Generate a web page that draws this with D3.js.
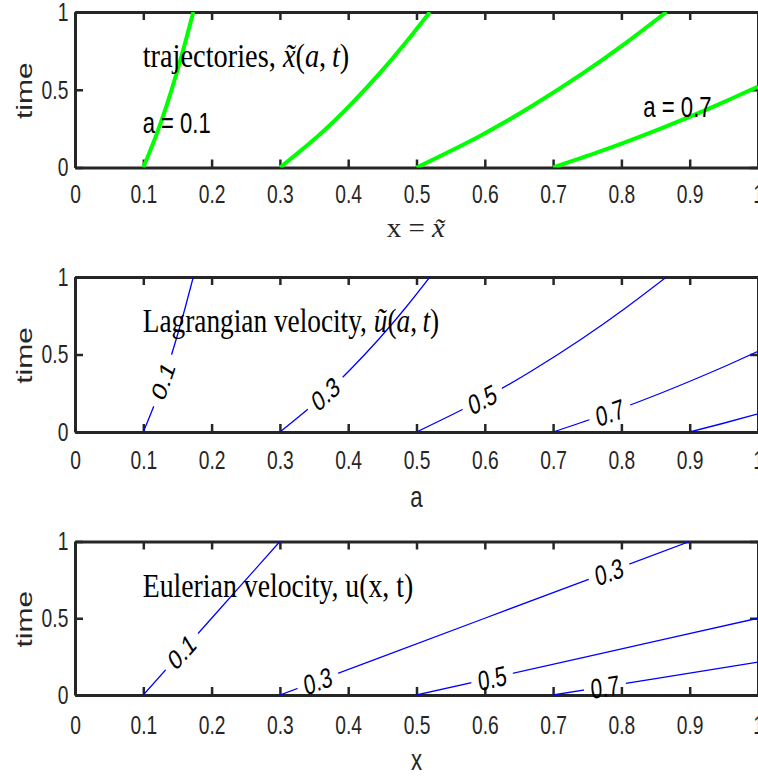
<!DOCTYPE html>
<html>
<head>
<meta charset="utf-8">
<script src="https://cdn.jsdelivr.net/npm/d3@7"></script>
<style>
  html, body { margin: 0; padding: 0; background: #fff; }
  svg { display: block; }
</style>
</head>
<body>
<svg id="fig" width="758" height="777"></svg>
<script>
// ---- axis ticks ----
const xTicks = [0, 0.1, 0.2, 0.3, 0.4, 0.5, 0.6, 0.7, 0.8, 0.9, 1];
const yTicks = [0, 0.5, 1];

// ---- trajectories x~(a,t), points as [x, t] ----
const trajA01 = [[0.1, 0], [0.1183, 0.2], [0.1342, 0.4], [0.1483, 0.6], [0.1612, 0.8], [0.1732, 1]];
const trajA03 = [[0.3, 0], [0.3550, 0.2], [0.4025, 0.4], [0.4450, 0.6], [0.4837, 0.8], [0.5196, 1]];
const trajA05 = [[0.5, 0], [0.5916, 0.2], [0.6708, 0.4], [0.7416, 0.6], [0.8062, 0.8], [0.8660, 1]];
const trajA07 = [[0.7, 0], [0.7668, 0.1], [0.8283, 0.2], [0.8854, 0.3], [0.9391, 0.4], [0.9649, 0.45], [1.0, 0.5204]];

// ---- Lagrangian velocity contours u~(a,t) = level, points as [a, t] ----
const lagLevels = ["0.1", "0.3", "0.5", "0.7", "0.9"];
const lag01 = trajA01;
const lag03 = trajA03;
const lag05 = trajA05;
const lag07 = trajA07;
const lag09 = [[0.9, 0], [0.9439, 0.05], [1.0, 0.1173]];
// inline label spots [level, a, t]
const lagLabels = [["0.1", 0.1285, 0.33], ["0.3", 0.3667, 0.247], ["0.5", 0.5965, 0.2116], ["0.7", 0.7833, 0.126]];

// ---- Eulerian velocity contours u(x,t) = level, points as [x, t] ----
const eulLevels = ["0.1", "0.3", "0.5", "0.7"];
const eul01 = [[0.1, 0], [0.2, 0.5], [0.3, 1]];
const eul03 = [[0.3, 0], [0.6, 0.5], [0.9, 1]];
const eul05 = [[0.5, 0], [0.75, 0.25], [1.0, 0.5]];
const eul07 = [[0.7, 0], [0.85, 0.107], [1.0, 0.2143]];
const eulLabels = [["0.1", 0.1564, 0.282], ["0.3", 0.3555, 0.0925], ["0.3", 0.782, 0.803], ["0.5", 0.611, 0.111], ["0.7", 0.776, 0.054]];

// ---- annotation text ----
const trajNotes = [["a = 0.1", 142.7, 133, 68], ["a = 0.7", 643.3, 116.7, 68.4]];

// ---------------------------------------------------------------
const svg = d3.select("#fig");
const AX = "#262626";
const SANS = '"Liberation Sans", Arial, Helvetica, sans-serif';
const SERIF = '"Liberation Serif", "Times New Roman", serif';
const SX = 0.74;           // horizontal squeeze applied to glyphs
const defs = svg.append("defs");

svg.append("rect").attr("width", 758).attr("height", 777).attr("fill", "#fff");

const x = d3.scaleLinear().domain([0, 1]).range([75, 758]);
const fmt = d => String(+d.toFixed(1));

const panels = [
  { top: 12,    bottom: 167.5, pad: 17 },
  { top: 277,   bottom: 432,   pad: 19 },
  { top: 541.5, bottom: 695,   pad: 21 }
];
panels.forEach(p => { p.y = d3.scaleLinear().domain([0, 1]).range([p.bottom, p.top]); });

function styleAxis(g) {
  g.attr("font-family", SANS).attr("font-size", 26);
  g.select(".domain").attr("stroke", AX).attr("stroke-width", 3);
  g.selectAll(".tick line").attr("stroke", AX).attr("stroke-width", 2.5);
  g.selectAll(".tick text").attr("fill", AX).attr("transform", `scale(${SX},1)`);
}

function drawAxes(p) {
  const y = p.y;
  const g = svg.append("g");
  g.append("g").attr("transform", `translate(0,${p.top})`)
    .call(d3.axisTop(x).tickValues(xTicks).tickFormat("").tickSize(-8).tickSizeOuter(0)).call(styleAxis);
  g.append("g").attr("transform", `translate(${x.range()[1]},0)`)
    .call(d3.axisRight(y).tickValues(yTicks).tickFormat("").tickSize(-8).tickSizeOuter(0)).call(styleAxis);
  g.append("g").attr("transform", `translate(0,${p.bottom})`)
    .call(d3.axisBottom(x).tickValues(xTicks).tickFormat(fmt).tickSize(-8).tickSizeOuter(0).tickPadding(p.pad)).call(styleAxis);
  g.append("g").attr("transform", `translate(${x.range()[0]},0)`)
    .call(d3.axisLeft(y).tickValues(yTicks).tickFormat(fmt).tickSize(-8).tickSizeOuter(0).tickPadding(9)).call(styleAxis);

  g.append("text")
    .attr("transform", `translate(32,${(p.top + p.bottom) / 2 + 1}) scale(${SX},1) rotate(-90)`)
    .attr("text-anchor", "middle")
    .attr("font-family", SANS).attr("font-size", 30).attr("fill", AX)
    .text("time");
}

// text squeezed to a given width, left edge at x0, on baseline by
function fitText(parent, x0, by, width, size, family, build, fill) {
  const t = parent.append("text")
    .attr("font-family", family).attr("font-size", size).attr("fill", fill || "#000");
  build(t);
  const w = t.node().getComputedTextLength();
  t.attr("transform", `translate(${x0},${by}) scale(${width / w},1)`);
  return t;
}
function seg(t, s, italic) {
  const ts = t.append("tspan").text(s);
  if (italic) ts.attr("font-style", "italic");
  return ts;
}

function plotClip(p, id) {
  defs.append("clipPath").attr("id", id).append("rect")
    .attr("x", x.range()[0]).attr("y", p.top)
    .attr("width", x.range()[1] - x.range()[0]).attr("height", p.bottom - p.top);
}

// contour lines with inline, rotated level labels cut into the line
function drawContours(p, idx, curves, labels) {
  const y = p.y;
  plotClip(p, "clip" + idx);
  const mask = defs.append("mask").attr("id", "mask" + idx)
    .attr("maskUnits", "userSpaceOnUse").attr("x", 0).attr("y", 0).attr("width", 758).attr("height", 777);
  mask.append("rect").attr("width", 758).attr("height", 777).attr("fill", "#fff");

  const line = d3.line().x(d => x(d[0])).y(d => y(d[1])).curve(d3.curveNatural);
  const g = svg.append("g").attr("clip-path", `url(#clip${idx})`);
  const lg = g.append("g").attr("mask", `url(#mask${idx})`);
  const paths = {};
  curves.forEach(([lvl, pts]) => {
    paths[lvl] = lg.append("path").attr("d", line(pts))
      .attr("fill", "none").attr("stroke", "#0000ff").attr("stroke-width", 1.3).node();
  });

  const labG = svg.append("g");
  labels.forEach(([lvl, lx, lt]) => {
    const path = paths[lvl];
    const tx = x(lx), ty = y(lt);
    const len = path.getTotalLength();
    let best = 0, bd = Infinity;
    for (let L = 0; L <= len; L += 0.5) {
      const q = path.getPointAtLength(L);
      const d = (q.x - tx) ** 2 + (q.y - ty) ** 2;
      if (d < bd) { bd = d; best = L; }
    }
    const c = path.getPointAtLength(best);
    const a = path.getPointAtLength(Math.max(0, best - 3));
    const b = path.getPointAtLength(Math.min(len, best + 3));
    const dx = (b.x - a.x) / SX, dy = b.y - a.y;
    let ang = Math.atan2(dy, dx) * 180 / Math.PI;
    if (ang > 90) ang -= 180;
    if (ang < -90) ang += 180;
    const tf = `translate(${c.x},${c.y}) scale(${SX},1) rotate(${ang})`;
    const t = labG.append("text").attr("transform", tf)
      .attr("text-anchor", "middle").attr("dy", "0.36em")
      .attr("font-family", SANS).attr("font-size", 28).attr("fill", "#000")
      .text(lvl);
    const w = t.node().getComputedTextLength();
    const padL = 9;
    mask.append("rect").attr("transform", tf)
      .attr("x", -w / 2 - padL).attr("y", -11).attr("width", w + 2 * padL).attr("height", 22)
      .attr("fill", "#000");
  });
}

// ---------------- panel 1: trajectories ----------------
{
  const p = panels[0];
  drawAxes(p);
  plotClip(p, "clip0");
  const line = d3.line().x(d => x(d[0])).y(d => p.y(d[1])).curve(d3.curveNatural);
  const g = svg.append("g").attr("clip-path", "url(#clip0)");
  [trajA01, trajA03, trajA05, trajA07].forEach(pts => {
    g.append("path").attr("d", line(pts))
      .attr("fill", "none").attr("stroke", "#00ff00").attr("stroke-width", 4);
  });
  fitText(svg, 142.7, 66.7, 206.6, 33, SERIF, t => {
    seg(t, "trajectories, ");
    seg(t, "x\u0303", true); seg(t, "("); seg(t, "a", true); seg(t, ",\u2009"); seg(t, "t", true); seg(t, ")");
  });
  trajNotes.forEach(([s, nx, ny, nw]) => {
    fitText(svg, nx, ny, nw, 29, SANS, t => seg(t, s));
  });
  fitText(svg, 386.7, 236.7, 58.3, 27, SERIF, t => {
    seg(t, "x = "); seg(t, "x\u0303", true);
  }, AX);
}

// ---------------- panel 2: Lagrangian velocity ----------------
{
  const p = panels[1];
  drawAxes(p);
  drawContours(p, 1, [["0.1", lag01], ["0.3", lag03], ["0.5", lag05], ["0.7", lag07], ["0.9", lag09]], lagLabels);
  fitText(svg, 142.7, 331.7, 296.6, 33, SERIF, t => {
    seg(t, "Lagrangian velocity, ");
    seg(t, "\u0169", true); seg(t, "("); seg(t, "a", true); seg(t, ",\u2009"); seg(t, "t", true); seg(t, ")");
  });
  svg.append("text").attr("transform", `translate(416.5,506.7) scale(${SX},1)`)
    .attr("text-anchor", "middle").attr("font-family", SANS).attr("font-size", 30).attr("fill", AX).text("a");
}

// ---------------- panel 3: Eulerian velocity ----------------
{
  const p = panels[2];
  drawAxes(p);
  drawContours(p, 2, [["0.1", eul01], ["0.3", eul03], ["0.5", eul05], ["0.7", eul07]], eulLabels);
  fitText(svg, 142.7, 596.7, 270.6, 33, SERIF, t => {
    seg(t, "Eulerian velocity, u(x, t)");
  });
  svg.append("text").attr("transform", `translate(416.5,770) scale(${SX},1)`)
    .attr("text-anchor", "middle").attr("font-family", SANS).attr("font-size", 30).attr("fill", AX).text("x");
}
</script>
</body>
</html>
